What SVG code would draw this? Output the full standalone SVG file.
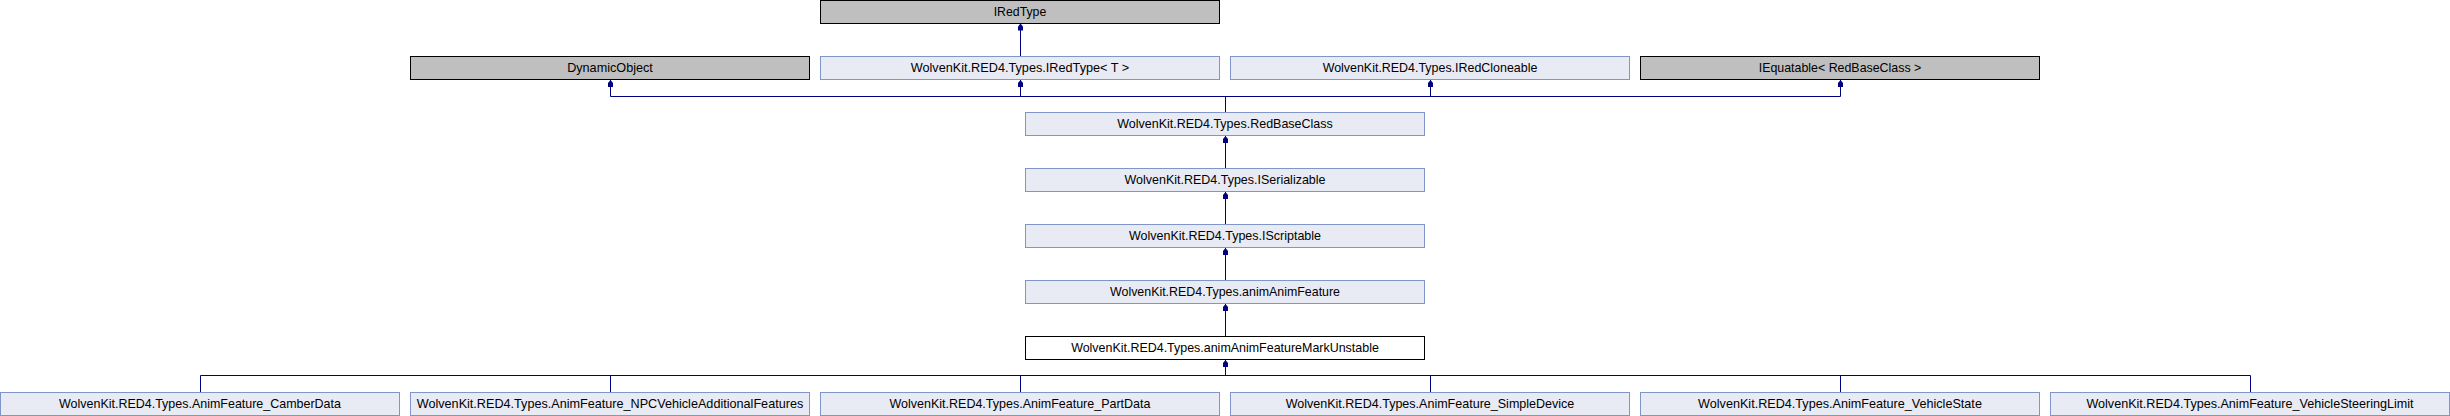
<svg xmlns="http://www.w3.org/2000/svg" width="2450" height="416" viewBox="0 0 2450 416">
<style>
.bg{fill:#ffffff}
.n rect{stroke-width:1}
.blue rect{fill:#e8ebf4;stroke:#8095c9}
.grey rect{fill:#bfbfbf;stroke:#000000}
.cur rect{fill:#ffffff;stroke:#000000}
text{font-family:"Liberation Sans",Arial,sans-serif;font-size:13px;fill:#000000;text-anchor:middle}
.c path{fill:none;stroke:#000080;stroke-width:1}
</style>
<defs>
<marker id="ah" viewBox="0 0 7 6" refX="7" refY="3" markerWidth="7" markerHeight="6" orient="auto" markerUnits="userSpaceOnUse">
<polygon points="7,3 4,0.5 0,0.5 0,5.5 4,5.5" fill="#000080"/>
</marker>
</defs>
<rect class="bg" x="0" y="0" width="2450" height="416"/>
<g id="connectors" class="c">
<path d="M1020.5,56.5 V23.5" marker-end="url(#ah)"/>
<path d="M1225.5,112.5 V96.5"/>
<path d="M610.5,96.5 H1840.5"/>
<path d="M610.5,96.5 V80" marker-end="url(#ah)"/>
<path d="M1020.5,96.5 V80" marker-end="url(#ah)"/>
<path d="M1430.5,96.5 V80" marker-end="url(#ah)"/>
<path d="M1840.5,96.5 V80" marker-end="url(#ah)"/>
<path d="M1225.5,168.5 V136" marker-end="url(#ah)"/>
<path d="M1225.5,224.5 V192" marker-end="url(#ah)"/>
<path d="M1225.5,280.5 V248" marker-end="url(#ah)"/>
<path d="M1225.5,336.5 V304" marker-end="url(#ah)"/>
<path d="M1225.5,375.5 V360" marker-end="url(#ah)"/>
<path d="M200.5,375.5 H2250.5"/>
<path d="M200.5,375.5 V392.5"/>
<path d="M610.5,375.5 V392.5"/>
<path d="M1020.5,375.5 V392.5"/>
<path d="M1430.5,375.5 V392.5"/>
<path d="M1840.5,375.5 V392.5"/>
<path d="M2250.5,375.5 V392.5"/>
</g>
<g id="IRedType" class="n grey"><rect x="820.5" y="0.5" width="399" height="23"/><text x="1020" y="16" textLength="52.6" lengthAdjust="spacingAndGlyphs">IRedType</text></g>
<g id="DynamicObject" class="n grey"><rect x="410.5" y="56.5" width="399" height="23"/><text x="610" y="72" textLength="85.7" lengthAdjust="spacingAndGlyphs">DynamicObject</text></g>
<g id="IRedTypeT" class="n blue"><rect x="820.5" y="56.5" width="399" height="23"/><text x="1020" y="72" textLength="218.5" lengthAdjust="spacingAndGlyphs">WolvenKit.RED4.Types.IRedType&lt; T &gt;</text></g>
<g id="IRedCloneable" class="n blue"><rect x="1230.5" y="56.5" width="399" height="23"/><text x="1430" y="72" textLength="214.7" lengthAdjust="spacingAndGlyphs">WolvenKit.RED4.Types.IRedCloneable</text></g>
<g id="IEquatable" class="n grey"><rect x="1640.5" y="56.5" width="399" height="23"/><text x="1840" y="72" textLength="162.6" lengthAdjust="spacingAndGlyphs">IEquatable&lt; RedBaseClass &gt;</text></g>
<g id="RedBaseClass" class="n blue"><rect x="1025.5" y="112.5" width="399" height="23"/><text x="1225" y="128" textLength="215.5" lengthAdjust="spacingAndGlyphs">WolvenKit.RED4.Types.RedBaseClass</text></g>
<g id="ISerializable" class="n blue"><rect x="1025.5" y="168.5" width="399" height="23"/><text x="1225" y="184" textLength="201" lengthAdjust="spacingAndGlyphs">WolvenKit.RED4.Types.ISerializable</text></g>
<g id="IScriptable" class="n blue"><rect x="1025.5" y="224.5" width="399" height="23"/><text x="1225" y="240" textLength="192" lengthAdjust="spacingAndGlyphs">WolvenKit.RED4.Types.IScriptable</text></g>
<g id="animAnimFeature" class="n blue"><rect x="1025.5" y="280.5" width="399" height="23"/><text x="1225" y="296" textLength="230" lengthAdjust="spacingAndGlyphs">WolvenKit.RED4.Types.animAnimFeature</text></g>
<g id="animAnimFeatureMarkUnstable" class="n cur"><rect x="1025.5" y="336.5" width="399" height="23"/><text x="1225" y="352" textLength="307.7" lengthAdjust="spacingAndGlyphs">WolvenKit.RED4.Types.animAnimFeatureMarkUnstable</text></g>
<g id="CamberData" class="n blue"><rect x="0.5" y="392.5" width="399" height="23"/><text x="200" y="408" textLength="281.9" lengthAdjust="spacingAndGlyphs">WolvenKit.RED4.Types.AnimFeature_CamberData</text></g>
<g id="NPCVehicleAdditionalFeatures" class="n blue"><rect x="410.5" y="392.5" width="399" height="23"/><text x="610" y="408" textLength="386.5" lengthAdjust="spacingAndGlyphs">WolvenKit.RED4.Types.AnimFeature_NPCVehicleAdditionalFeatures</text></g>
<g id="PartData" class="n blue"><rect x="820.5" y="392.5" width="399" height="23"/><text x="1020" y="408" textLength="261" lengthAdjust="spacingAndGlyphs">WolvenKit.RED4.Types.AnimFeature_PartData</text></g>
<g id="SimpleDevice" class="n blue"><rect x="1230.5" y="392.5" width="399" height="23"/><text x="1430" y="408" textLength="288.7" lengthAdjust="spacingAndGlyphs">WolvenKit.RED4.Types.AnimFeature_SimpleDevice</text></g>
<g id="VehicleState" class="n blue"><rect x="1640.5" y="392.5" width="399" height="23"/><text x="1840" y="408" textLength="283.8" lengthAdjust="spacingAndGlyphs">WolvenKit.RED4.Types.AnimFeature_VehicleState</text></g>
<g id="VehicleSteeringLimit" class="n blue"><rect x="2050.5" y="392.5" width="399" height="23"/><text x="2250" y="408" textLength="327.2" lengthAdjust="spacingAndGlyphs">WolvenKit.RED4.Types.AnimFeature_VehicleSteeringLimit</text></g>
</svg>
